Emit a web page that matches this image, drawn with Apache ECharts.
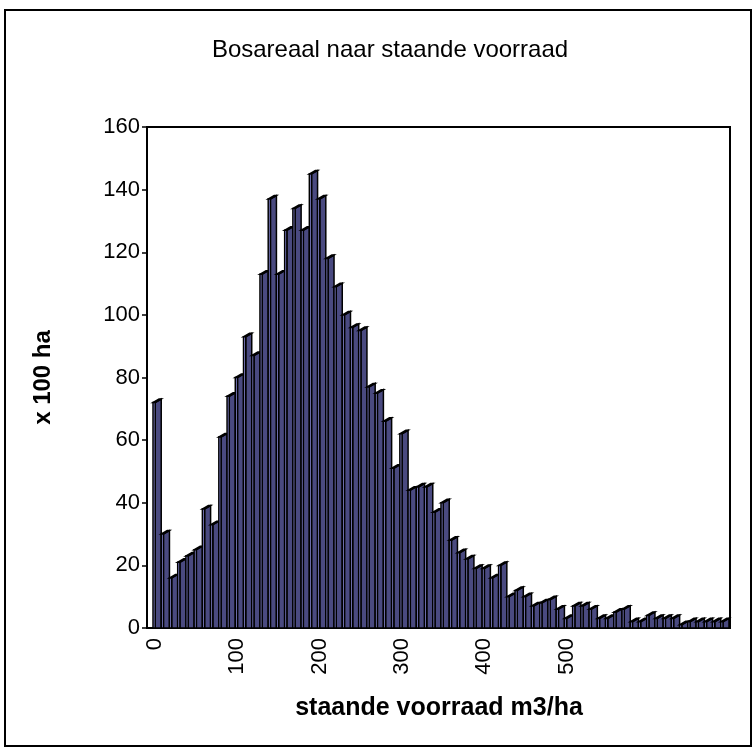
<!DOCTYPE html>
<html>
<head>
<meta charset="utf-8">
<script src="https://cdn.jsdelivr.net/npm/echarts@6/dist/echarts.min.js"></script>
<style>
html,body{margin:0;padding:0;background:#fff;}
#chart{width:755px;height:751px;}
</style>
</head>
<body>
<div id="chart"></div>
<script>
// categories: staande voorraad (m3/ha), class lower bounds
const categories = ['0','10','20','30','40','50','60','70','80','90',
  '100','110','120','130','140','150','160','170','180','190',
  '200','210','220','230','240','250','260','270','280','290',
  '300','310','320','330','340','350','360','370','380','390',
  '400','410','420','430','440','450','460','470','480','490',
  '500','510','520','530','540','550','560','570','580','590',
  '600','610','620','630','640','650','660','670','680','690'];
// bosareaal (x 100 ha)
const areaValues = [72,30,16,21,23,25,38,33,61,74,
  80,93,87,113,137,113,127,134,127,145,
  137,118,109,100,96,95,77,75,66,51,
  62,44,45,45,37,40,28,24,22,19,
  19,16,20,10,12,10,7,8,9,6,
  3,7,7,6,3,3,5,6,2,2,
  4,3,3,3,1,2,2,2,2,2];
const xTickLabels = ['0','100','200','300','400','500'];

const chart = echarts.init(document.getElementById('chart'), null, {renderer:'canvas'});
const LIGHT = '#9898f0', DARK = '#4a4a80', EDGE = '#000';

function renderBar(params, api) {
  const idx = api.value(0), val = api.value(1);
  const top = api.coord([idx, val]);
  const base = api.coord([idx, 0]);
  const bw = api.size([1, 0])[0];
  const x0 = top[0] - bw / 2 + 2;
  const fw = 2.2, sw = bw - fw, dy = 3.5;
  const yt = top[1], yb = base[1];
  return {
    type: 'group',
    children: [
      {type:'polygon', shape:{points:[[x0+fw,yb],[x0+fw,yt],[x0+fw+sw,yt-dy],[x0+fw+sw,yb]]},
        style:{fill:DARK, stroke:EDGE, lineWidth:1.5}},
      {type:'polygon', shape:{points:[[x0,yt],[x0+fw,yt],[x0+fw+sw,yt-dy],[x0+sw,yt-dy]]},
        style:{fill:DARK, stroke:EDGE, lineWidth:1.5}},
      {type:'rect', shape:{x:x0, y:yt, width:fw, height:yb-yt},
        style:{fill:LIGHT, stroke:EDGE, lineWidth:1.5}}
    ]
  };
}

const option = {
  backgroundColor: '#fff',
  animation: false,
  title: {
    text: 'Bosareaal naar staande voorraad',
    left: 385, top: 33, textAlign: 'center',
    textStyle: {fontFamily:'Liberation Sans, Arial, sans-serif', fontSize: 24, fontWeight:'normal', color:'#000'}
  },
  graphic: [{
    type:'rect', shape:{x:5, y:10, width:746, height:736},
    style:{fill:'none', stroke:'#000', lineWidth:2}, silent:true, z:-1
  }],
  grid: [
    {left:147, top:127, width:583, height:501, show:true, borderColor:'#000', borderWidth:2, backgroundColor:'transparent'},
    {left:151, top:127, width:576, height:501}
  ],
  xAxis: [
    {type:'value', gridIndex:0, show:false, min:0, max:1},
    {type:'category', gridIndex:1, data:categories,
      axisLine:{show:false}, axisTick:{show:false},
      axisLabel:{interval:0, rotate:90, margin:10, color:'#000', fontSize:22,
        fontFamily:'Liberation Sans, Arial, sans-serif',
        formatter: v => xTickLabels.indexOf(v) >= 0 ? v : ''},
      name:'staande voorraad m3/ha', nameLocation:'middle', nameGap:68,
      nameTextStyle:{color:'#000', fontSize:25, fontWeight:'bold', fontFamily:'Liberation Sans, Arial, sans-serif'}
    }
  ],
  yAxis: [
    {type:'value', gridIndex:0, min:0, max:160, interval:20,
      axisLine:{show:true, lineStyle:{color:'#000', width:2}},
      axisTick:{show:true, length:5, lineStyle:{color:'#000', width:1.5}},
      splitLine:{show:false},
      axisLabel:{color:'#000', fontSize:22, margin:7, fontFamily:'Liberation Sans, Arial, sans-serif'},
      name:'x 100 ha', nameLocation:'middle', nameGap:92, nameRotate:90,
      nameTextStyle:{color:'#000', fontSize:24, fontWeight:'bold', fontFamily:'Liberation Sans, Arial, sans-serif'}
    },
    {type:'value', gridIndex:1, min:0, max:160, interval:20, show:false}
  ],
  series: [{
    type:'custom', xAxisIndex:1, yAxisIndex:1,
    renderItem: renderBar,
    data: areaValues.map((v, i) => [i, v]),
    encode:{x:0, y:1}
  }]
};
chart.setOption(option);
</script>
</body>
</html>
